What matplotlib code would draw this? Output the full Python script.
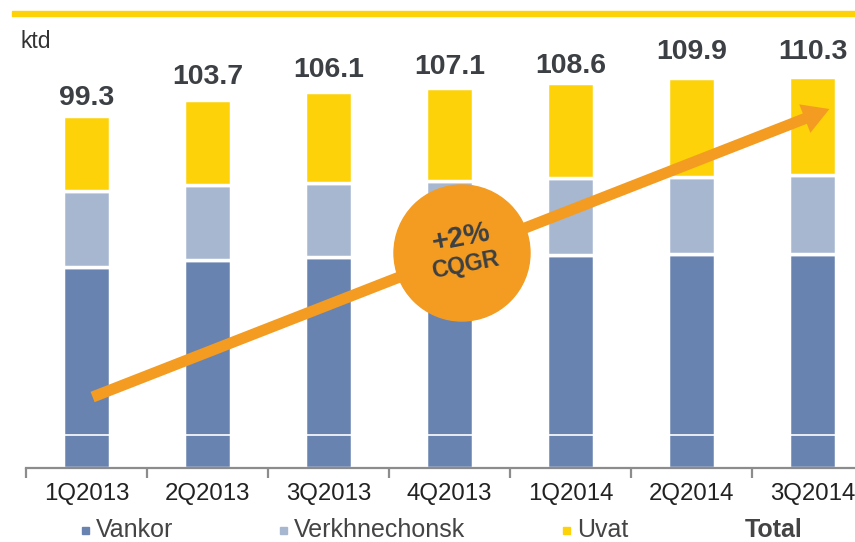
import matplotlib
matplotlib.use("Agg")
import matplotlib.pyplot as plt
from matplotlib.patches import Rectangle, Circle, FancyArrowPatch

plt.rcParams['font.family'] = ['Liberation Sans', 'DejaVu Sans']

quarters = ['1Q2013', '2Q2013', '3Q2013', '4Q2013', '1Q2014', '2Q2014', '3Q2014']
vankor = [56.7, 58.7, 59.5, 59.5, 60.1, 60.4, 60.4]
verkh = [21.4, 21.1, 21.0, 21.5, 21.6, 21.8, 22.3]
totals = [99.3, 103.7, 106.1, 107.1, 108.6, 109.9, 110.3]
uvat = [t - a - b for t, a, b in zip(totals, vankor, verkh)]

c_vankor = '#6983b0'
c_verkh = '#a7b7cf'
c_uvat = '#fdd208'
c_orange = '#f39c21'
c_text = '#3c4044'
label_pad = [5, 10, 9, 8, 4, 13, 12]  # px above bar, as in the slide

fig = plt.figure(figsize=(8.55, 5.42), dpi=100)
W, H = 855, 542
ax = fig.add_axes([26 / W, (H - 468) / H, (W - 26) / W, 428 / H])

x = list(range(len(quarters)))
kw = dict(width=0.385, edgecolor='white', linewidth=2.5, zorder=2)
ax.bar(x, vankor, color=c_vankor, **kw)
ax.bar(x, verkh, bottom=vankor, color=c_verkh, **kw)
base2 = [a + b for a, b in zip(vankor, verkh)]
ax.bar(x, uvat, bottom=base2, color=c_uvat, **kw)
ax.axhline(9.3, color='white', lw=1.2, zorder=3)

for i, t in enumerate(totals):
    ax.annotate(f'{t:.1f}', (i, t), xytext=(0, label_pad[i] * 0.72),
                textcoords='offset points', ha='center', va='bottom',
                fontsize=20.5, fontweight='bold', color=c_text)

ax.set_xlim(-0.5, 6.35)
ax.set_ylim(0, 120.7)
for s in ['left', 'top', 'right']:
    ax.spines[s].set_visible(False)
ax.spines['bottom'].set_color('#8c8c8c')
ax.spines['bottom'].set_linewidth(1.6)
ax.set_yticks([])
ax.set_xticks(x)
ax.set_xticklabels(quarters, fontsize=17.3, color='#222222')
ax.tick_params(axis='x', which='major', length=0, pad=11)
ax.set_xticks([i - 0.5 for i in x], minor=True)
ax.tick_params(axis='x', which='minor', length=7, width=1.6, color='#8c8c8c')

# header strip and unit
fig.patches.append(Rectangle((12 / W, (H - 16) / H), 1, 5 / H, transform=fig.transFigure,
                             color=c_uvat, zorder=1))
fig.text(20 / W, (H - 42) / H, 'ktd', fontsize=16.5, color='#333333', va='center')

# growth arrow and badge
tr = fig.dpi_scale_trans
arrow = FancyArrowPatch((0.90, 1.44), (8.32, 4.34), transform=tr,
                        arrowstyle='simple,head_width=22,head_length=19,tail_width=8',
                        mutation_scale=1, color=c_orange, lw=0, zorder=2)
fig.patches.append(arrow)
fig.patches.append(Circle((4.62, (H - 253) / 100), 0.68, transform=tr,
                          color=c_orange, zorder=3))
fig.text(4.61 / 8.55, (H - 238) / H, '+2%', fontsize=21, fontweight='bold',
         color=c_text, ha='center', va='center', rotation=11, zorder=4)
fig.text(4.65 / 8.55, (H - 265) / H, 'CQGR', fontsize=16.5, fontweight='bold',
         color=c_text, ha='center', va='center', rotation=11, zorder=4)

# legend
legend_items = [('Vankor', c_vankor, 82), ('Verkhnechonsk', c_verkh, 280), ('Uvat', c_uvat, 563)]
ly = (H - 530) / H
for name, col, px in legend_items:
    fig.patches.append(Rectangle((px / W, (H - 534) / H), 7 / W, 7 / H,
                                 transform=fig.transFigure, color=col))
    fig.text((px + 14) / W, ly, name, fontsize=18, color='#444444', va='center')
fig.text(745 / W, ly, 'Total', fontsize=18, fontweight='bold', color='#444444', va='center')

fig.savefig('out.png', dpi=100)
